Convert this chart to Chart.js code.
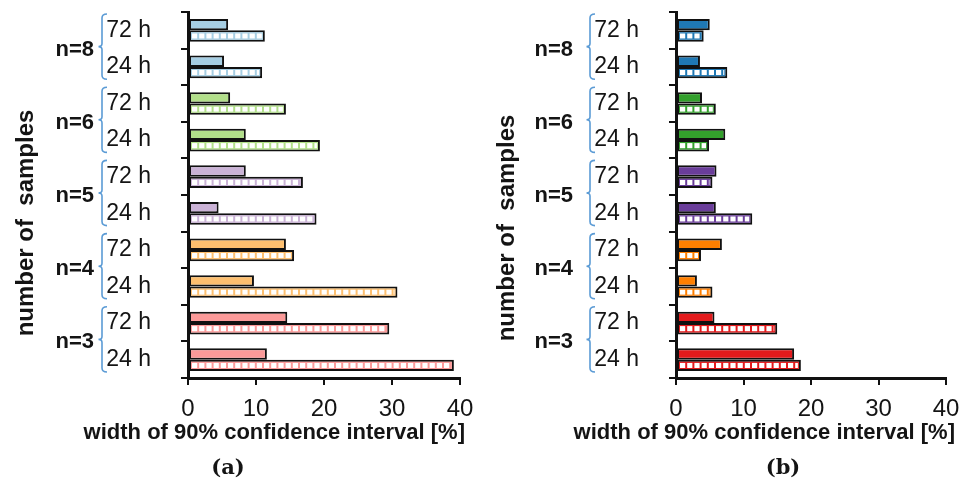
<!DOCTYPE html>
<html>
<head>
<meta charset="utf-8">
<script src="https://cdn.jsdelivr.net/npm/chart.js@4.4.1/dist/chart.umd.min.js"></script>
<style>
  html, body { margin: 0; padding: 0; background: #fff; overflow: hidden; }
  #wrap { position: relative; width: 972px; height: 486px; }
  canvas { position: absolute; top: 0; }
</style>
</head>
<body>
<div id="wrap">
  <canvas id="chartA" width="486" height="486" style="left:0"></canvas>
  <canvas id="chartB" width="486" height="486" style="left:486px"></canvas>
</div>
<script>
// Rows from top to bottom: each sample size has a 72 h and a 24 h row
const rowLabels = ['72 h', '24 h', '72 h', '24 h', '72 h', '24 h', '72 h', '24 h', '72 h', '24 h'];
const groupLabels = ['n=8', 'n=6', 'n=5', 'n=4', 'n=3'];
const xTicks = [0, 10, 20, 30, 40];

// Width of the 90% confidence interval [%], panel (a)
const solidA   = [5.9, 5.3, 6.2, 8.5, 8.5, 4.5, 14.4, 9.7, 14.6, 11.6];
const hatchedA = [11.3, 10.9, 14.4, 19.4, 16.9, 18.9, 15.6, 30.8, 29.6, 39.1];

// Width of the 90% confidence interval [%], panel (b)
const solidB   = [5.0, 3.55, 3.85, 7.3, 6.0, 5.9, 6.8, 3.1, 5.7, 17.5];
const hatchedB = [4.1, 7.6, 5.9, 4.9, 5.4, 11.3, 3.7, 5.4, 15.0, 18.5];

const paletteA = ['#a6cee3', '#b2df8a', '#cab2d6', '#fdbf6f', '#fb9a99'];
const paletteB = ['#1f78b4', '#33a02c', '#6a3d9a', '#ff7f00', '#e31a1c'];

const TEXT = '#141414';
const SANS = '"Liberation Sans", Arial, sans-serif';
const BAR_BORDER = 2;

// Draws the white square chain inside the patterned bars, the grouping
// braces, the group labels, the axis titles and the panel letter.
const decorPlugin = {
  id: 'decor',
  afterDatasetsDraw(chart, args, opts) {
    const ctx = chart.ctx;
    const meta = chart.getDatasetMeta(1);
    ctx.save();
    meta.data.forEach(bar => {
      const p = bar.getProps(['x', 'y', 'base', 'height'], true);
      const inset = 1.0, period = 7.2, sqW = 5.2;
      const left = Math.min(p.x, p.base) + BAR_BORDER;
      const right = Math.max(p.x, p.base) - BAR_BORDER;
      const top = p.y - p.height / 2 + BAR_BORDER;
      const bottom = p.y + p.height / 2 - BAR_BORDER;
      const sq = bottom - top - 2 * inset;
      if (right - left <= 2 * inset) return;
      ctx.save();
      ctx.beginPath();
      ctx.rect(left + inset, top + inset, right - left - 2 * inset, bottom - top - 2 * inset);
      ctx.clip();
      ctx.fillStyle = '#ffffff';
      for (let sx = left + inset; sx < right - inset; sx += period) {
        ctx.fillRect(sx, top + inset, sqW, sq);
      }
      ctx.restore();
    });
    ctx.restore();
  },
  afterDraw(chart, args, opts) {
    const ctx = chart.ctx;
    const area = chart.chartArea;
    const y = chart.scales.y;
    const cat = y.getPixelForValue(1) - y.getPixelForValue(0);
    ctx.save();

    // braces and group labels
    groupLabels.forEach((lab, k) => {
      const top = y.getPixelForValue(2 * k) - cat / 2 + 2;
      const bottom = y.getPixelForValue(2 * k + 1) + cat / 2 - 6;
      const mid = (top + bottom) / 2;
      const lx = area.left - 86, px = lx - 3.5, hx = lx + 5;
      ctx.beginPath();
      ctx.moveTo(hx, top);
      ctx.quadraticCurveTo(lx, top, lx, top + 4);
      ctx.lineTo(lx, mid - 3);
      ctx.quadraticCurveTo(lx, mid, px, mid);
      ctx.quadraticCurveTo(lx, mid, lx, mid + 3);
      ctx.lineTo(lx, bottom - 4);
      ctx.quadraticCurveTo(lx, bottom, hx, bottom);
      ctx.strokeStyle = '#5b9bd5';
      ctx.lineWidth = 1.6;
      ctx.stroke();

      const cy = (y.getPixelForValue(2 * k) + y.getPixelForValue(2 * k + 1)) / 2;
      ctx.fillStyle = TEXT;
      ctx.font = 'bold 22px ' + SANS;
      ctx.textAlign = 'right';
      ctx.textBaseline = 'middle';
      ctx.fillText(lab, opts.nRight, cy + 1);
    });

    // vertical axis title
    ctx.save();
    ctx.translate(opts.yTitleX, opts.yTitleY);
    ctx.rotate(-Math.PI / 2);
    ctx.font = 'bold 24px ' + SANS;
    ctx.textAlign = 'center';
    ctx.textBaseline = 'middle';
    ctx.fillStyle = TEXT;
    ctx.fillText('number of  samples', 0, 0);
    ctx.restore();

    // horizontal axis title
    ctx.font = 'bold 22px ' + SANS;
    ctx.textAlign = 'right';
    ctx.textBaseline = 'alphabetic';
    ctx.fillStyle = TEXT;
    ctx.fillText('width of 90% confidence interval [%]', area.right + opts.titleShift, 439);

    // panel letter
    ctx.font = 'bold 21px "DejaVu Serif", serif';
    ctx.textAlign = 'center';
    ctx.textBaseline = 'middle';
    ctx.fillText(opts.panel, opts.panelX, 469);
    ctx.restore();
  }
};

function rowColors(palette) {
  return rowLabels.map((_, i) => palette[Math.floor(i / 2)]);
}

function makeChart(id, solid, hatched, palette, axisLeft, decor) {
  const colors = rowColors(palette);
  return new Chart(document.getElementById(id), {
    type: 'bar',
    data: {
      labels: rowLabels,
      datasets: [
        { data: solid, backgroundColor: colors },
        { data: hatched, backgroundColor: colors }
      ]
    },
    options: {
      indexAxis: 'y',
      responsive: false,
      animation: false,
      devicePixelRatio: 1,
      layout: { padding: { top: 12, right: 26, bottom: 0, left: 0 } },
      datasets: {
        bar: {
          categoryPercentage: 0.62,
          barPercentage: 1.0,
          borderColor: '#111111',
          borderWidth: BAR_BORDER,
          borderSkipped: false
        }
      },
      plugins: {
        legend: { display: false },
        tooltip: { enabled: false },
        decor: decor
      },
      scales: {
        x: {
          type: 'linear',
          min: xTicks[0],
          max: xTicks[xTicks.length - 1],
          afterBuildTicks: s => { s.ticks = xTicks.map(v => ({ value: v })); },
          afterFit: s => { s.height = 108; s.paddingLeft = 0; s.paddingRight = 0; },
          grid: { drawOnChartArea: false, drawTicks: true, tickLength: 7, color: '#111111', lineWidth: 2 },
          border: { display: true, color: '#111111', width: 3 },
          ticks: { color: TEXT, font: { family: SANS, size: 24 }, padding: 10, maxRotation: 0 }
        },
        y: {
          type: 'category',
          afterFit: s => { s.width = axisLeft; s.paddingTop = 0; s.paddingBottom = 0; },
          grid: { offset: true, drawOnChartArea: false, drawTicks: true, tickLength: 7, color: '#111111', lineWidth: 2 },
          border: { display: true, color: '#111111', width: 3 },
          ticks: { color: TEXT, font: { family: SANS, size: 23 }, padding: 30, autoSkip: false }
        }
      }
    },
    plugins: [decorPlugin]
  });
}

makeChart('chartA', solidA, hatchedA, paletteA, 188,
  { panel: '(a)', panelX: 228, nRight: 94, yTitleX: 26, yTitleY: 223, titleShift: 5 });
makeChart('chartB', solidB, hatchedB, paletteB, 190,
  { panel: '(b)', panelX: 297, nRight: 87, yTitleX: 21, yTitleY: 228, titleShift: 9 });
</script>
</body>
</html>
